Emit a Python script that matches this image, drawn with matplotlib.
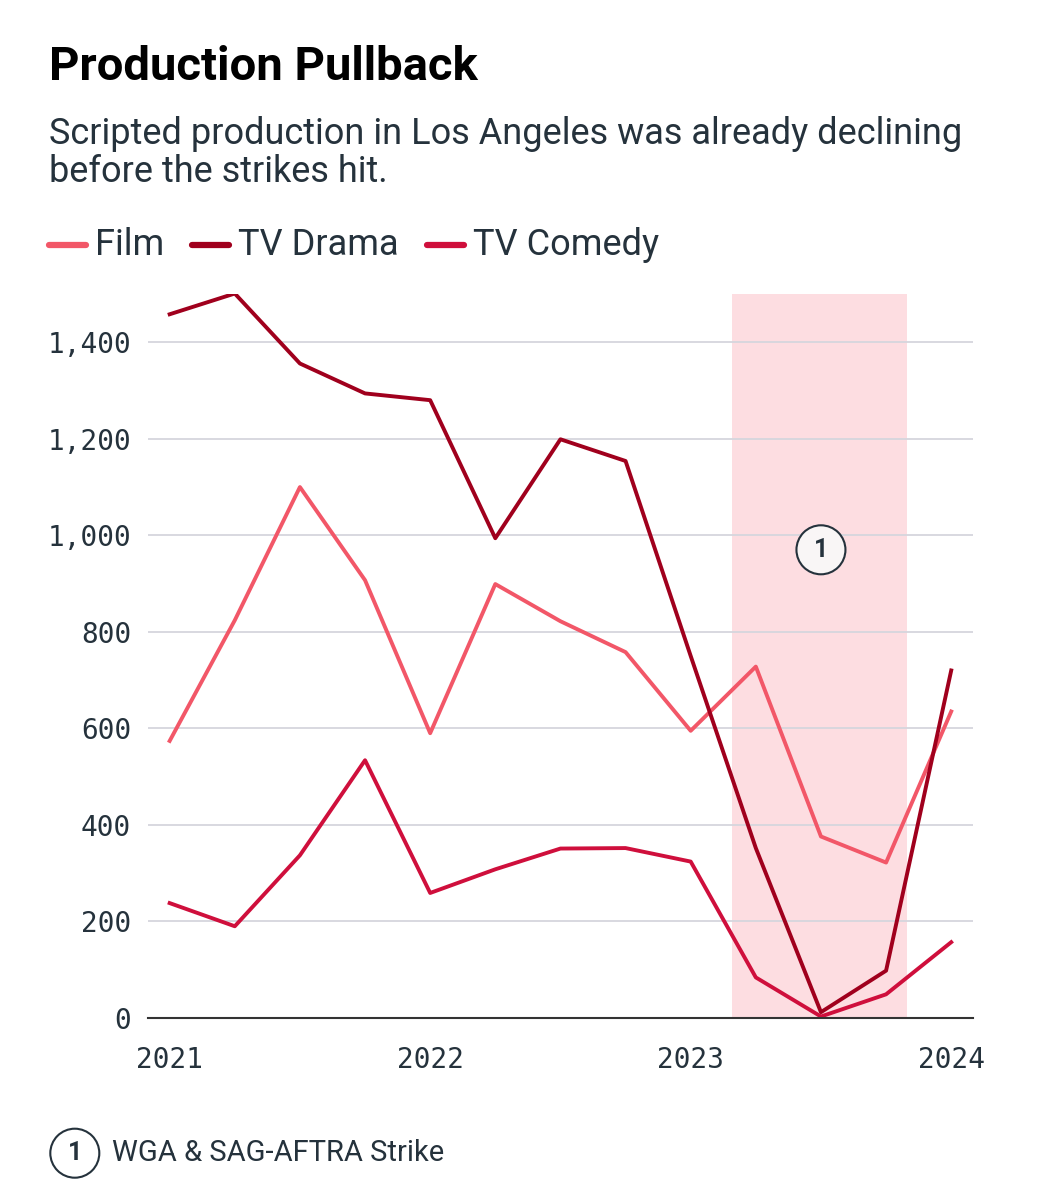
import numpy as np
import matplotlib.pyplot as plt
from matplotlib.lines import Line2D

# quarterly, 2021 Q1 .. 2024 Q1
quarters = [2021 + i * 0.25 for i in range(13)]
film = [574, 824, 1100, 907, 590, 899, 822, 758, 595, 728, 376, 322, 635]
tv_drama = [1458, 1501, 1356, 1294, 1280, 994, 1199, 1154, 750, 352, 12, 98, 720]
tv_comedy = [238, 190, 337, 534, 259, 308, 351, 352, 324, 84, 3, 49, 157]

strike_start, strike_end = 2023.16, 2023.83
yticks = [0, 200, 400, 600, 800, 1000, 1200, 1400]
xticks = [2021, 2022, 2023, 2024]

text_col = '#25323c'
c_film = '#f25768'
c_drama = '#a0001d'
c_comedy = '#cf0f3c'

plt.rcParams['font.family'] = ['Roboto', 'DejaVu Sans']

fig = plt.figure(figsize=(10.39, 12), dpi=100)
ax = fig.add_axes([0.1424, 0.1517, 0.794, 0.6033])

ax.axvspan(strike_start, strike_end, color='#fddde1', zorder=0, lw=0)
series = [('Film', film, c_film), ('TV Drama', tv_drama, c_drama), ('TV Comedy', tv_comedy, c_comedy)]
for name, vals, col in series:
    ax.plot(quarters, vals, color=col, lw=2.8, label=name, zorder=3)

ax.set_xlim(2021 - 1 / 12, 2024 + 1 / 12)
ax.set_ylim(0, 1500)
ax.set_yticks(yticks)
ax.set_yticklabels([f'{v:,}' for v in yticks])
ax.set_xticks(xticks)
ax.set_xticklabels([str(v) for v in xticks])
for lab in ax.get_xticklabels() + ax.get_yticklabels():
    lab.set_family('DejaVu Sans Mono')
    lab.set_fontsize(20)
    lab.set_color(text_col)
ax.tick_params(axis='y', length=0, pad=12)
ax.tick_params(axis='x', length=0, pad=20)
ax.grid(axis='y', color='#d6d6dd', lw=1.3, zorder=1)
for s in ['top', 'right', 'left']:
    ax.spines[s].set_visible(False)
ax.spines['bottom'].set_color('#333333')
ax.spines['bottom'].set_linewidth(1.5)
ax.spines['bottom'].set_zorder(4)

ax.text(2023.5, 970, '1', ha='center', va='center',
        fontsize=18, fontweight='bold', color=text_col, zorder=5,
        bbox=dict(boxstyle='circle,pad=0.5', fc='#f9f6f6', ec=text_col, lw=1.5))

fig.text(0.047, 0.933, 'Production Pullback', fontsize=34, fontweight='bold',
         color='black', va='baseline')
fig.text(0.047, 0.848, 'Scripted production in Los Angeles was already declining\nbefore the strikes hit.',
         fontsize=26, color=text_col, va='baseline', linespacing=1.1)

# legend drawn by hand: short line + label, one after another
renderer = fig.canvas.get_renderer()
W = fig.get_figwidth() * fig.dpi
x = 49 / W
y_leg = 0.796
for name, vals, col in series:
    fig.add_artist(Line2D([x, x + 37 / W], [y_leg, y_leg], color=col, lw=4.5,
                          solid_capstyle='round', transform=fig.transFigure))
    t = fig.text(x + 46 / W, y_leg, name, fontsize=26, color=text_col, va='center')
    w = t.get_window_extent(renderer).width
    x = x + (46 + w + 28) / W

fig.text(0.072, 0.039, '1', ha='center', va='center', fontsize=18, fontweight='bold',
         color=text_col, bbox=dict(boxstyle='circle,pad=0.5', fc='white', ec=text_col, lw=1.5))
fig.text(0.108, 0.039, 'WGA & SAG-AFTRA Strike', fontsize=21, color=text_col, va='center')

fig.savefig('out.png', dpi=100)
